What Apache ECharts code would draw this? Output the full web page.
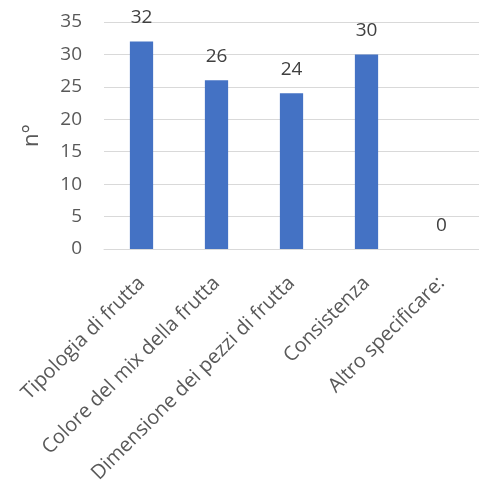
<!DOCTYPE html>
<html>
<head>
<meta charset="utf-8">
<script src="https://cdn.jsdelivr.net/npm/echarts@6/dist/echarts.min.js"></script>
<style>
  html, body { margin: 0; padding: 0; background: #fff; }
  #chart { width: 479px; height: 487px; }
</style>
</head>
<body>
<div id="chart"></div>
<script>
var categories = ['Tipologia di frutta', 'Colore del mix della frutta', 'Dimensione dei pezzi di frutta', 'Consistenza', 'Altro specificare:'];
var values = [32, 26, 24, 30, 0];
var yTicks = [0, 5, 10, 15, 20, 25, 30, 35];

var chartDom = document.getElementById('chart');
var myChart = echarts.init(chartDom);
var font = '"Open Sans", sans-serif';
var option = {
  animation: false,
  grid: { left: 104, right: 0, top: 22, bottom: 238 },
  xAxis: {
    type: 'category',
    data: categories,
    axisLine: { lineStyle: { color: '#d9d9d9' } },
    axisTick: { show: false },
    axisLabel: {
      rotate: 45,
      margin: 31,
      interval: 0,
      color: '#595959',
      fontSize: 20,
      fontFamily: font
    }
  },
  yAxis: {
    type: 'value',
    min: yTicks[0],
    max: yTicks[yTicks.length - 1],
    interval: 5,
    name: 'n°',
    nameLocation: 'middle',
    nameGap: 61,
    nameTextStyle: { color: '#595959', fontSize: 22, fontFamily: font },
    axisLine: { show: false },
    axisTick: { show: false },
    splitLine: { lineStyle: { color: '#d9d9d9', width: 1 } },
    axisLabel: { color: '#595959', fontSize: 19, fontFamily: font, margin: 22 }
  },
  series: [
    {
      type: 'bar',
      data: values,
      barWidth: '31%',
      itemStyle: { color: '#4472c4' },
      label: {
        show: true,
        position: 'top',
        distance: 14,
        color: '#404040',
        fontSize: 19,
        fontFamily: font
      }
    }
  ]
};
myChart.setOption(option);
</script>
</body>
</html>
